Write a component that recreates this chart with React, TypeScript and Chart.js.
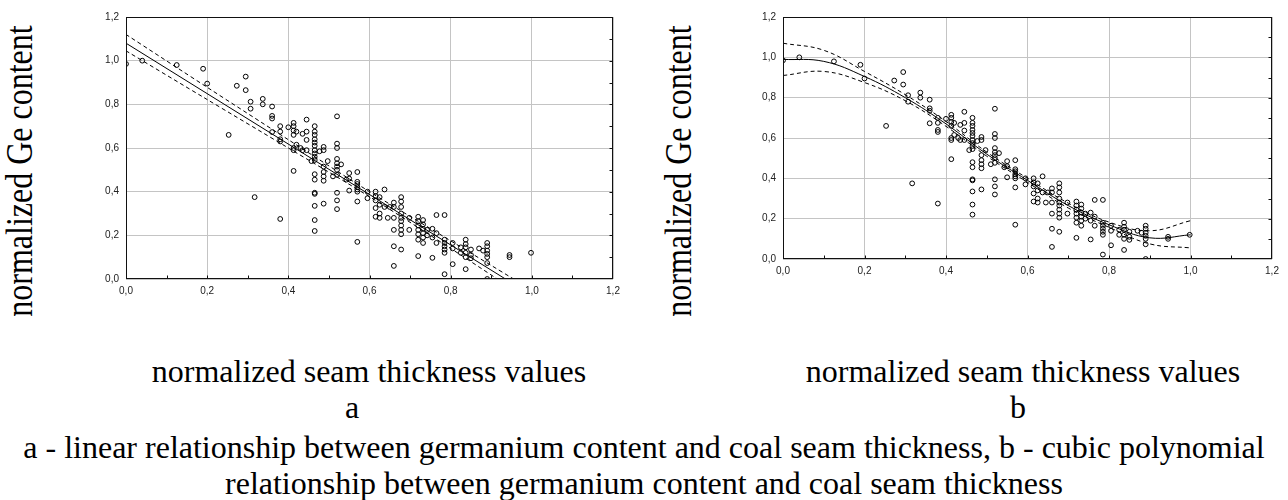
import React, { useEffect, useRef } from 'react';
import Chart from 'chart.js/auto';

// ---------- data ----------
const seamThickness = [
  0.0, 0.04, 0.125, 0.19, 0.2, 0.253, 0.273, 0.295, 0.295, 0.307, 0.307, 0.317,
  0.337, 0.337, 0.36, 0.36, 0.36, 0.36, 0.38, 0.38, 0.38, 0.38, 0.38, 0.4,
  0.413, 0.413, 0.413, 0.413, 0.413, 0.413, 0.413, 0.42, 0.42, 0.43, 0.435, 0.435,
  0.445, 0.445, 0.445, 0.445, 0.457, 0.465, 0.465, 0.465, 0.465, 0.465, 0.465, 0.465,
  0.465, 0.465, 0.465, 0.465, 0.465, 0.465, 0.465, 0.465, 0.465, 0.465, 0.477, 0.487,
  0.487, 0.487, 0.487, 0.487, 0.487, 0.487, 0.497, 0.51, 0.52, 0.52, 0.52, 0.52,
  0.52, 0.52, 0.52, 0.52, 0.52, 0.52, 0.52, 0.53, 0.543, 0.55, 0.55, 0.55,
  0.57, 0.57, 0.57, 0.57, 0.57, 0.57, 0.57, 0.57, 0.595, 0.595, 0.615, 0.615,
  0.615, 0.615, 0.615, 0.625, 0.625, 0.625, 0.625, 0.637, 0.637, 0.645, 0.65, 0.66,
  0.66, 0.66, 0.66, 0.66, 0.66, 0.678, 0.678, 0.678, 0.678, 0.678, 0.678, 0.678,
  0.678, 0.678, 0.678, 0.698, 0.698, 0.72, 0.72, 0.72, 0.72, 0.72, 0.72, 0.72,
  0.732, 0.732, 0.732, 0.732, 0.732, 0.732, 0.742, 0.742, 0.755, 0.755, 0.755, 0.765,
  0.765, 0.765, 0.785, 0.785, 0.785, 0.785, 0.785, 0.785, 0.785, 0.805, 0.805, 0.805,
  0.825, 0.825, 0.837, 0.837, 0.837, 0.837, 0.837, 0.837, 0.85, 0.85, 0.85, 0.87,
  0.88, 0.89, 0.89, 0.89, 0.89, 0.89, 0.89, 0.89, 0.945, 0.945, 0.998,
];

const geContent = [
  0.985, 1.0, 0.98, 0.963, 0.895, 0.66, 0.885, 0.927, 0.865, 0.812, 0.78, 0.375,
  0.825, 0.8, 0.79, 0.747, 0.735, 0.673, 0.7, 0.675, 0.64, 0.63, 0.275, 0.695,
  0.715, 0.7, 0.68, 0.66, 0.6, 0.59, 0.495, 0.675, 0.615, 0.6, 0.665, 0.59,
  0.73, 0.675, 0.637, 0.59, 0.54, 0.7, 0.675, 0.66, 0.64, 0.625, 0.61, 0.59,
  0.575, 0.56, 0.545, 0.48, 0.455, 0.395, 0.39, 0.335, 0.27, 0.22, 0.585, 0.605,
  0.59, 0.515, 0.49, 0.47, 0.45, 0.345, 0.54, 0.47, 0.745, 0.62, 0.6, 0.55,
  0.53, 0.515, 0.5, 0.477, 0.395, 0.36, 0.32, 0.525, 0.455, 0.485, 0.46, 0.405,
  0.49, 0.445, 0.435, 0.42, 0.41, 0.4, 0.355, 0.17, 0.4, 0.37, 0.4, 0.38,
  0.36, 0.325, 0.285, 0.375, 0.34, 0.3, 0.28, 0.41, 0.33, 0.28, 0.33, 0.35,
  0.33, 0.28, 0.225, 0.15, 0.06, 0.375, 0.355, 0.33, 0.3, 0.28, 0.265, 0.245,
  0.225, 0.205, 0.135, 0.28, 0.225, 0.285, 0.265, 0.245, 0.225, 0.205, 0.18, 0.105,
  0.27, 0.25, 0.23, 0.21, 0.19, 0.165, 0.225, 0.2, 0.23, 0.19, 0.097, 0.293,
  0.21, 0.165, 0.293, 0.18, 0.165, 0.15, 0.135, 0.12, 0.022, 0.165, 0.14, 0.068,
  0.145, 0.12, 0.18, 0.16, 0.145, 0.12, 0.1, 0.045, 0.135, 0.11, 0.095, 0.14,
  0.13, 0.165, 0.15, 0.13, 0.115, 0.1, 0.073, 0.0, 0.11, 0.1, 0.12,
];

// panel a: linear fit and its confidence bands
const linearFitX = [0, 0.935];
const linearFitY = [1.08, 0];
const linearUpperX = [0, 0.2, 0.4, 0.6, 0.8, 0.955];
const linearUpperY = [1.12, 0.878, 0.638, 0.4, 0.175, 0];
const linearLowerX = [0, 0.2, 0.4, 0.6, 0.8, 0.915];
const linearLowerY = [1.045, 0.822, 0.6, 0.377, 0.14, 0];

// panel b: cubic fit and its confidence bands
const cubicX = [0, 0.1, 0.2, 0.3, 0.4, 0.5, 0.6, 0.7, 0.8, 0.9, 1.0];
const cubicFitY = [0.99, 0.98, 0.905, 0.8, 0.67, 0.52, 0.39, 0.265, 0.17, 0.105, 0.12];
const cubicUpperY = [1.07, 1.035, 0.93, 0.815, 0.682, 0.53, 0.4, 0.277, 0.183, 0.14, 0.19];
const cubicLowerY = [0.91, 0.93, 0.875, 0.785, 0.658, 0.51, 0.38, 0.253, 0.157, 0.075, 0.055];

// axes
const axisMin = 0;
const axisMax = 1.2;
const axisStep = 0.2;
const minorTicks = [0.1, 0.2, 0.3, 0.4, 0.5, 0.6, 0.7, 0.8, 0.9, 1.0, 1.1];

// texts
const yTitle = 'normalized Ge content';
const xTitle = 'normalized seam thickness values';
const panelLabels = ['a', 'b'];
const captionLines = [
  'a - linear relationship between germanium content and coal seam thickness, b - cubic polynomial',
  'relationship between germanium content and coal seam thickness',
];

// ---------- helpers ----------
const fmt = (v: number) => (Math.round(v * 10) / 10).toFixed(1).replace('.', ',');
const pts = (xs: number[], ys: number[]) => xs.map((x, i) => ({ x, y: ys[i] }));

const framePlugin = {
  id: 'frame',
  afterDraw(chart: any) {
    const { ctx, chartArea: a, scales } = chart;
    ctx.save();
    ctx.strokeStyle = '#111';
    ctx.lineWidth = 1;
    const l = Math.round(a.left) + 0.5;
    const t = Math.round(a.top) + 0.5;
    const r = Math.round(a.right) - 0.5;
    const b = Math.round(a.bottom) - 0.5;
    ctx.strokeRect(l, t, r - l, b - t);
    ctx.beginPath();
    for (const v of minorTicks) {
      const px = Math.round(scales.x.getPixelForValue(v)) + 0.5;
      ctx.moveTo(px, b);
      ctx.lineTo(px, b - 3);
      const py = Math.round(scales.y.getPixelForValue(v)) + 0.5;
      ctx.moveTo(r, py);
      ctx.lineTo(r - 3, py);
    }
    ctx.stroke();
    ctx.restore();
  },
};

function lineDs(xs: number[], ys: number[], dashed: boolean, tension: number) {
  return {
    data: pts(xs, ys),
    showLine: true,
    borderColor: '#000',
    borderWidth: 1,
    borderDash: dashed ? [4, 3] : [],
    pointRadius: 0,
    pointHoverRadius: 0,
    fill: false,
    tension,
    clip: 0,
  };
}

function buildConfig(lines: any[], yWidth: number, xHeight: number, padRight: number) {
  const scaleCommon = {
    type: 'linear',
    min: axisMin,
    max: axisMax,
    grid: { color: '#c4c4c4', lineWidth: 1, drawTicks: false },
    border: { display: false },
  };
  return {
    type: 'scatter',
    data: {
      datasets: [
        {
          data: pts(seamThickness, geContent),
          showLine: false,
          pointStyle: 'circle',
          pointRadius: 2.4,
          pointBorderWidth: 1,
          pointBorderColor: '#000',
          pointBackgroundColor: 'rgba(0,0,0,0)',
          borderColor: '#000',
          backgroundColor: 'rgba(0,0,0,0)',
          clip: 0,
        },
        ...lines,
      ],
    },
    options: {
      responsive: false,
      animation: false,
      events: [],
      layout: { padding: { top: 17, right: padRight, left: 0, bottom: 0 } },
      plugins: { legend: { display: false }, tooltip: { enabled: false }, title: { display: false } },
      scales: {
        x: {
          ...scaleCommon,
          position: 'bottom',
          ticks: { stepSize: axisStep, callback: (v: any) => fmt(Number(v)), padding: 6, color: '#222', font: { size: 10 }, maxRotation: 0 },
          afterFit: (s: any) => { s.height = xHeight; },
        },
        y: {
          ...scaleCommon,
          position: 'left',
          ticks: { stepSize: axisStep, callback: (v: any) => fmt(Number(v)), padding: 7, color: '#222', font: { size: 10 } },
          afterFit: (s: any) => { s.width = yWidth; },
        },
      },
    },
    plugins: [framePlugin],
  } as any;
}

const serif = "'Liberation Serif', 'Times New Roman', serif";

function HText({ x, baseline, size, children }: any) {
  return (
    <div
      style={{
        position: 'absolute',
        left: x,
        top: baseline - 0.8375 * size,
        fontSize: size,
        lineHeight: `${size}px`,
        whiteSpace: 'nowrap',
        transform: 'translateX(-50%)',
        fontFamily: serif,
        color: '#000',
      }}
    >
      {children}
    </div>
  );
}

function VText({ cx, cy, size, sy, children }: any) {
  return (
    <div
      style={{
        position: 'absolute',
        left: cx,
        top: cy,
        fontSize: size,
        lineHeight: `${size}px`,
        whiteSpace: 'nowrap',
        transform: `translate(-50%, -50%) rotate(-90deg) scaleY(${sy})`,
        fontFamily: serif,
        color: '#000',
      }}
    >
      {children}
    </div>
  );
}

export default function App() {
  const refA = useRef<HTMLCanvasElement>(null);
  const refB = useRef<HTMLCanvasElement>(null);

  useEffect(() => {
    Chart.defaults.font.family = "'Liberation Sans', Arial, sans-serif";
    const linesA = [
      lineDs(linearFitX, linearFitY, false, 0),
      lineDs(linearUpperX, linearUpperY, true, 0.3),
      lineDs(linearLowerX, linearLowerY, true, 0.3),
    ];
    const linesB = [
      lineDs(cubicX, cubicFitY, false, 0.4),
      lineDs(cubicX, cubicUpperY, true, 0.4),
      lineDs(cubicX, cubicLowerY, true, 0.4),
    ];
    const chartA = new Chart(refA.current as HTMLCanvasElement, buildConfig(linesA, 66, 21, 17));
    const chartB = new Chart(refB.current as HTMLCanvasElement, buildConfig(linesB, 63, 21, 16));
    return () => {
      chartA.destroy();
      chartB.destroy();
    };
  }, []);

  return (
    <div
      style={{
        position: 'absolute',
        left: 0,
        top: 0,
        width: 1288,
        height: 500,
        background: '#fff',
        overflow: 'hidden',
      }}
    >
      <canvas ref={refA} width={570} height={300} style={{ position: 'absolute', left: 60, top: 0 }} />
      <canvas ref={refB} width={568} height={280} style={{ position: 'absolute', left: 720, top: 0 }} />

      <VText cx={19} cy={171} size={32} sy={1.2}>{yTitle}</VText>
      <VText cx={678} cy={171} size={32} sy={1.2}>{yTitle}</VText>

      <HText x={369} baseline={382} size={32}>{xTitle}</HText>
      <HText x={1023} baseline={382} size={32}>{xTitle}</HText>

      <HText x={352} baseline={418} size={32}>{panelLabels[0]}</HText>
      <HText x={1018} baseline={418} size={32}>{panelLabels[1]}</HText>

      <HText x={644} baseline={458} size={32}>{captionLines[0]}</HText>
      <HText x={644} baseline={494} size={32}>{captionLines[1]}</HText>
    </div>
  );
}
